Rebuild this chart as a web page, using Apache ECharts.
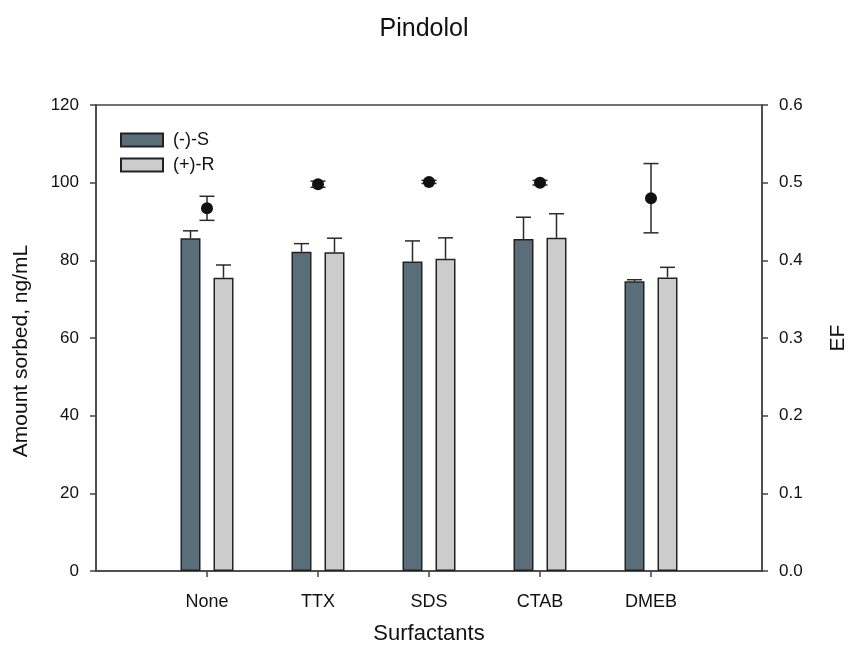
<!DOCTYPE html>
<html>
<head>
<meta charset="utf-8">
<script src="https://cdn.jsdelivr.net/npm/echarts@6/dist/echarts.min.js"></script>
<style>
  html, body { margin: 0; padding: 0; background: #fff; }
  #chart { width: 848px; height: 648px; }
</style>
</head>
<body>
<div id="chart"></div>
<script>
// Surfactant treatments
const categories = ['None', 'TTX', 'SDS', 'CTAB', 'DMEB'];

// Amount sorbed (ng/mL) for each enantiomer, with standard deviations
const sValues = [85.7, 82.2, 79.7, 85.5, 74.6];
const sErrors = [1.9, 2.1, 5.3, 5.6, 0.4];
const rValues = [75.5, 82.1, 80.4, 85.8, 75.6];
const rErrors = [3.3, 3.6, 5.4, 6.2, 2.6];

// Enantiomeric fraction with standard deviations
const efValues = [0.467, 0.498, 0.501, 0.500, 0.480];
const efErrors = [0.0155, 0.004, 0.002, 0.003, 0.0446];

// Axis ticks
const leftTicks = { min: 0, max: 120, interval: 20 };
const rightTicks = { min: 0, max: 0.6, interval: 0.1 };

// Category axis padded with an empty slot on each side
const axisCats = [''].concat(categories, ['']);
const pad = arr => [null].concat(arr, [null]);

const FONT = 'Liberation Sans, Arial, sans-serif';
const BAR_OFFSET = 16.5;

function errData(values, errors) {
  return values.map((v, i) => [i + 1, v, errors[i]]);
}

function errorBar(offset, capHalf, both) {
  return function (params, api) {
    const x = api.value(0), y = api.value(1), e = api.value(2);
    const top = api.coord([x, y + e]);
    const mid = api.coord([x, y]);
    const bot = api.coord([x, y - e]);
    const cx = mid[0] + offset;
    const style = { stroke: '#2b2b2b', lineWidth: 1.5 };
    const children = [
      { type: 'line', shape: { x1: cx, y1: both ? bot[1] : mid[1], x2: cx, y2: top[1] }, style },
      { type: 'line', shape: { x1: cx - capHalf, y1: top[1], x2: cx + capHalf, y2: top[1] }, style }
    ];
    if (both) {
      children.push({ type: 'line', shape: { x1: cx - capHalf, y1: bot[1], x2: cx + capHalf, y2: bot[1] }, style });
    }
    return { type: 'group', children };
  };
}

const chart = echarts.init(document.getElementById('chart'), null, { renderer: 'canvas' });

chart.setOption({
  backgroundColor: '#ffffff',
  animation: false,
  title: {
    text: 'Pindolol',
    left: 'center',
    top: 12,
    textStyle: { fontFamily: FONT, fontSize: 25, fontWeight: 'normal', color: '#111' }
  },
  legend: {
    data: ['(-)-S', '(+)-R'],
    orient: 'vertical',
    left: 120,
    top: 131,
    padding: 0,
    itemWidth: 42,
    itemHeight: 13,
    itemGap: 7,
    icon: 'rect',
    textStyle: { fontFamily: FONT, fontSize: 18, color: '#111', padding: [0, 0, 0, 5] }
  },
  grid: {
    left: 96, right: 86, top: 105, bottom: 77,
    outerBoundsMode: 'none',
    show: true, borderColor: '#444', borderWidth: 1.5
  },
  xAxis: {
    type: 'category',
    data: axisCats,
    boundaryGap: false,
    name: 'Surfactants',
    nameLocation: 'middle',
    nameGap: 52,
    nameTextStyle: { fontFamily: FONT, fontSize: 22, color: '#111' },
    axisLine: { show: true, lineStyle: { color: '#444', width: 1.5 } },
    axisTick: { show: true, length: 6, interval: (i) => i > 0 && i < axisCats.length - 1, lineStyle: { color: '#444', width: 1.5 } },
    axisLabel: { fontFamily: FONT, fontSize: 18, color: '#111', margin: 22, interval: 0 },
    splitLine: { show: false }
  },
  yAxis: [
    {
      type: 'value',
      min: leftTicks.min,
      max: leftTicks.max,
      interval: leftTicks.interval,
      name: 'Amount sorbed, ng/mL',
      nameLocation: 'middle',
      nameGap: 64,
      nameTextStyle: { fontFamily: FONT, fontSize: 21, color: '#111', padding: [0, 26, 0, 0] },
      axisLine: { show: true, lineStyle: { color: '#444', width: 1.5 } },
      axisTick: { show: true, length: 6, lineStyle: { color: '#444', width: 1.5 } },
      axisLabel: { fontFamily: FONT, fontSize: 17, color: '#111', margin: 17 },
      splitLine: { show: false }
    },
    {
      type: 'value',
      position: 'right',
      min: rightTicks.min,
      max: rightTicks.max,
      interval: rightTicks.interval,
      name: 'EF',
      nameLocation: 'middle',
      nameGap: 66,
      nameTextStyle: { fontFamily: FONT, fontSize: 21, color: '#111' },
      axisLine: { show: true, lineStyle: { color: '#444', width: 1.5 } },
      axisTick: { show: true, length: 6, lineStyle: { color: '#444', width: 1.5 } },
      axisLabel: { fontFamily: FONT, fontSize: 17, color: '#111', margin: 17, formatter: v => v.toFixed(1) },
      splitLine: { show: false }
    }
  ],
  series: [
    {
      name: 'S error',
      type: 'custom',
      renderItem: errorBar(-BAR_OFFSET, 7.5, false),
      data: errData(sValues, sErrors),
      z: 1
    },
    {
      name: 'R error',
      type: 'custom',
      renderItem: errorBar(BAR_OFFSET, 7.5, false),
      data: errData(rValues, rErrors),
      z: 1
    },
    {
      name: '(-)-S',
      type: 'bar',
      data: pad(sValues),
      barWidth: 20,
      barGap: '65%',
      itemStyle: { color: '#5a6e7a', borderColor: '#222', borderWidth: 1.5 },
      z: 2
    },
    {
      name: '(+)-R',
      type: 'bar',
      data: pad(rValues),
      barWidth: 20,
      barGap: '65%',
      itemStyle: { color: '#cccccc', borderColor: '#222', borderWidth: 1.5 },
      z: 2
    },
    {
      name: 'EF error',
      type: 'custom',
      yAxisIndex: 1,
      renderItem: errorBar(0, 7.5, true),
      data: errData(efValues, efErrors),
      z: 3
    },
    {
      name: 'EF',
      type: 'scatter',
      yAxisIndex: 1,
      data: efValues.map((v, i) => [i + 1, v]),
      symbol: 'circle',
      symbolSize: 12,
      itemStyle: { color: '#111', opacity: 1 },
      z: 4
    }
  ]
});
</script>
</body>
</html>
